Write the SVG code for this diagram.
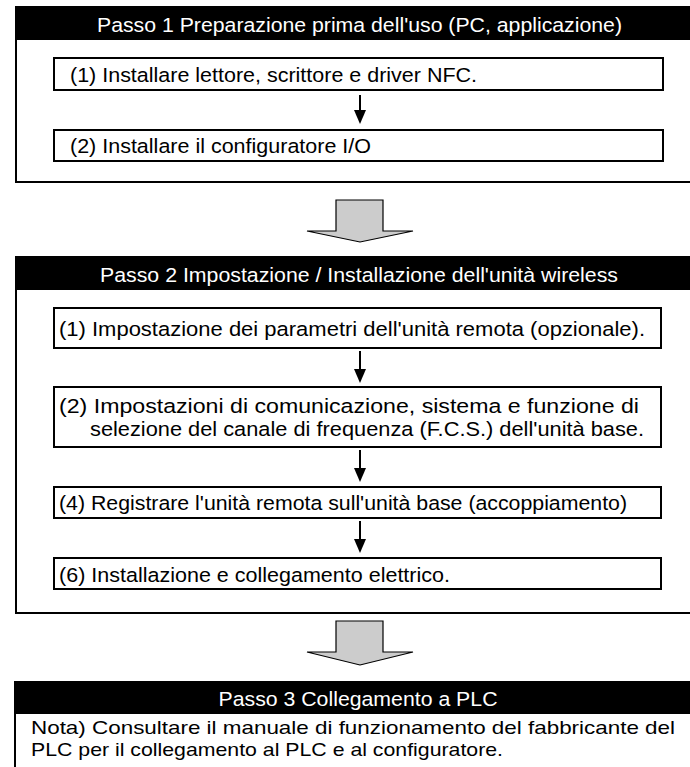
<svg xmlns="http://www.w3.org/2000/svg" width="690" height="767" viewBox="0 0 690 767">
<style>
.frame{fill:#fff;stroke:#000;stroke-width:2}
.hdr{fill:#000}
.box{fill:#fff;stroke:#000;stroke-width:2}
.ht{font-family:"Liberation Sans",Arial,sans-serif;font-size:20.5px;fill:#fff;text-anchor:middle}
.t{font-family:"Liberation Sans",Arial,sans-serif;font-size:20.5px;fill:#000}
.n{font-family:"Liberation Sans",Arial,sans-serif;font-size:19px;fill:#000}
.big{fill:#cccccc;stroke:#000;stroke-width:1.2;stroke-linejoin:miter}
.ln{stroke:#000;stroke-width:2;fill:none}
.hd{fill:#000}
</style>
<rect width="690" height="767" fill="#fff"/>

<g id="step1">
  <rect class="frame" x="16" y="7" width="700" height="175"/>
  <rect class="hdr" x="16" y="7" width="700" height="33"/>
  <text class="ht" x="359.5" y="32" textLength="525" lengthAdjust="spacingAndGlyphs">Passo 1 Preparazione prima dell'uso (PC, applicazione)</text>
</g>
<g id="s1-1">
  <rect class="box" x="54" y="58" width="609" height="32"/>
  <text class="t" x="70" y="82" textLength="407" lengthAdjust="spacingAndGlyphs">(1) Installare lettore, scrittore e driver NFC.</text>
</g>
<g id="s1-2">
  <rect class="box" x="54" y="130" width="609" height="31"/>
  <text class="t" x="70" y="153" textLength="301" lengthAdjust="spacingAndGlyphs">(2) Installare il configuratore I/O</text>
</g>

<g id="step2">
  <rect class="frame" x="16" y="257" width="700" height="356"/>
  <rect class="hdr" x="16" y="257" width="700" height="33"/>
  <text class="ht" x="359" y="282" textLength="518" lengthAdjust="spacingAndGlyphs">Passo 2 Impostazione / Installazione dell'unità wireless</text>
</g>
<g id="s2-1">
  <rect class="box" x="54" y="308" width="607" height="40"/>
  <text class="t" x="59" y="336" textLength="586" lengthAdjust="spacingAndGlyphs">(1) Impostazione dei parametri dell'unità remota (opzionale).</text>
</g>
<g id="s2-2">
  <rect class="box" x="54" y="387" width="607" height="60"/>
  <text class="t" x="59" y="413" textLength="580" lengthAdjust="spacingAndGlyphs">(2) Impostazioni di comunicazione, sistema e funzione di</text>
  <text class="t" x="90" y="436" textLength="554" lengthAdjust="spacingAndGlyphs">selezione del canale di frequenza (F.C.S.) dell'unità base.</text>
</g>
<g id="s2-4">
  <rect class="box" x="54" y="487" width="607" height="31"/>
  <text class="t" x="59" y="510" textLength="568" lengthAdjust="spacingAndGlyphs">(4) Registrare l'unità remota sull'unità base (accoppiamento)</text>
</g>
<g id="s2-6">
  <rect class="box" x="54" y="558" width="607" height="31"/>
  <text class="t" x="59" y="582" textLength="391" lengthAdjust="spacingAndGlyphs">(6) Installazione e collegamento elettrico.</text>
</g>

<g id="step3">
  <rect class="frame" x="15" y="682" width="700" height="120"/>
  <rect class="hdr" x="15" y="682" width="700" height="32"/>
  <text class="ht" x="358" y="706" textLength="279" lengthAdjust="spacingAndGlyphs">Passo 3 Collegamento a PLC</text>
  <text class="n" x="31" y="734" textLength="644" lengthAdjust="spacingAndGlyphs">Nota) Consultare il manuale di funzionamento del fabbricante del</text>
  <text class="n" x="31" y="756" textLength="472" lengthAdjust="spacingAndGlyphs">PLC per il collegamento al PLC e al configuratore.</text>
</g>

<g id="connectors">
  <path class="big" d="M336,200 H383 V231 H413 L360,242 L307,231 H336 Z"/>
  <path class="big" d="M336,621 H383 V652 H413 L360,665 L307,652 H336 Z"/>
  <line class="ln" x1="360" y1="95" x2="360" y2="111"/>
  <path class="hd" d="M354,110 H366 L360,124 Z"/>
  <line class="ln" x1="360" y1="351" x2="360" y2="370"/>
  <path class="hd" d="M354,369 H366 L360,383 Z"/>
  <line class="ln" x1="360" y1="450" x2="360" y2="469"/>
  <path class="hd" d="M354,468 H366 L360,482 Z"/>
  <line class="ln" x1="360" y1="521" x2="360" y2="540"/>
  <path class="hd" d="M354,539 H366 L360,553 Z"/>
</g>
</svg>
